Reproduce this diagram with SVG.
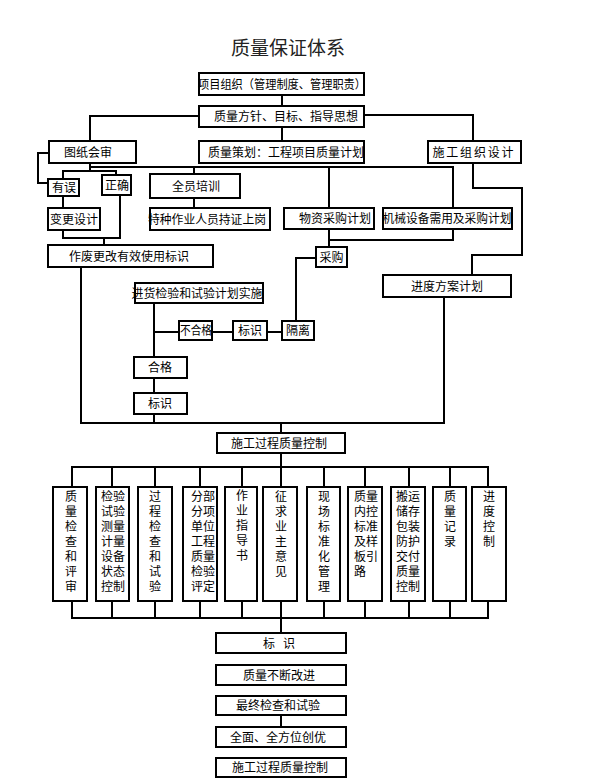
<svg xmlns="http://www.w3.org/2000/svg" width="595" height="781" viewBox="0 0 595 781">
<style>
rect{fill:#fff;stroke:#000;stroke-width:2}
.c path,.c line{fill:none;stroke:#000;stroke-width:2}
text{font-family:"Noto Sans CJK SC","Liberation Sans",sans-serif;font-size:12px;fill:#000;text-anchor:middle}
.v text{text-anchor:middle}
.l{text-anchor:start}
</style>
<rect x="0" y="0" width="595" height="781" style="stroke:none"/>
<text x="288" y="55" style="font-size:19px;fill:#222">质量保证体系</text>
<g class="c" id="connectors">
<path d="M282,95V106"/>
<path d="M199,116H90V141"/>
<path d="M282,127V141"/>
<path d="M364,115H473V141"/>
<path d="M49,153H38V183H48"/>
<path d="M90,163V171M90,167H453V208M329,167V208M194,167V174"/>
<path d="M63,179V171H116V175"/>
<path d="M63,196V208"/>
<path d="M63,230V238H120V195M104,238V245"/>
<path d="M194,198V208"/>
<path d="M473,163V188H522V255H472V275"/>
<path d="M329,229V247M329,240H453V229"/>
<path d="M316,258H296V321"/>
<path d="M81,267V423H444V297"/>
<path d="M154,303V357M154,332H179M212,332H233M267,332H282"/>
<path d="M154,378V393M154,414V423"/>
<path d="M281,423V433"/>
<path d="M281,453V487M281,601V633"/>
<path d="M72,487V467H488V487M112,467V487M155,467V487M200,467V487M242,467V487M324,467V487M365,467V487M409,467V487M450,467V487"/>
<path d="M72,601V618H488V601M112,618V601M155,618V601M200,618V601M242,618V601M324,618V601M365,618V601M409,618V601M450,618V601"/>
<path d="M281,715V727"/>
</g>
<g id="n1"><rect x="199" y="73" width="165" height="22"/><text x="282" y="88.5" textLength="168" lengthAdjust="spacingAndGlyphs">项目组织（管理制度、管理职责）</text></g>
<g id="n2"><rect x="199" y="106" width="165" height="21"/><text x="286" y="121">质量方针、目标、指导思想</text></g>
<g id="n3"><rect x="49" y="141" width="87" height="22"/><text x="88" y="156.5">图纸会审</text></g>
<g id="n4"><rect x="199" y="141" width="165" height="22"/><text x="286" y="156.5">质量策划：工程项目质量计划</text></g>
<g id="n5"><rect x="428" y="141" width="93" height="22"/><text x="473" y="156.5" textLength="81" lengthAdjust="spacing">施工组织设计</text></g>
<g id="n6"><rect x="48" y="179" width="31" height="17"/><text x="64" y="192">有误</text></g>
<g id="n7"><rect x="102" y="175" width="29" height="20"/><text x="117" y="189.5">正确</text></g>
<g id="n8"><rect x="150" y="174" width="90" height="24"/><text x="196" y="190.5">全员培训</text></g>
<g id="n9"><rect x="48" y="208" width="52" height="22"/><text x="74" y="223.5">变更设计</text></g>
<g id="n10"><rect x="150" y="208" width="120" height="22"/><text x="207" y="223.5" textLength="118" lengthAdjust="spacingAndGlyphs">特种作业人员持证上岗</text></g>
<g id="n11"><rect x="284" y="208" width="90" height="21"/><text x="335" y="223">物资采购计划</text></g>
<g id="n12"><rect x="383" y="208" width="129" height="21"/><text x="447" y="223" textLength="129" lengthAdjust="spacingAndGlyphs">机械设备需用及采购计划</text></g>
<g id="n13"><rect x="48" y="245" width="165" height="22"/><text x="129" y="260.5">作废更改有效使用标识</text></g>
<g id="n14"><rect x="316" y="247" width="31" height="20"/><text x="331.5" y="261.5">采购</text></g>
<g id="n15"><rect x="383" y="275" width="128" height="22"/><text x="447" y="290.5">进度方案计划</text></g>
<g id="n16"><rect x="135" y="283" width="128" height="20"/><text x="197" y="297.5" textLength="131" lengthAdjust="spacingAndGlyphs">进货检验和试验计划实施</text></g>
<g id="n17"><rect x="179" y="321" width="33" height="19"/><text x="196" y="335" textLength="32" lengthAdjust="spacingAndGlyphs">不合格</text></g>
<g id="n18"><rect x="233" y="321" width="34" height="19"/><text x="250" y="335">标识</text></g>
<g id="n19"><rect x="282" y="321" width="32" height="19"/><text x="298" y="335">隔离</text></g>
<g id="n20"><rect x="134" y="357" width="53" height="21"/><text x="160" y="372">合格</text></g>
<g id="n21"><rect x="134" y="393" width="53" height="21"/><text x="160" y="408">标识</text></g>
<g id="n22"><rect x="217" y="433" width="128" height="20"/><text x="279" y="447.5">施工过程质量控制</text></g>
<g id="b1" class="v"><rect x="53" y="487" width="34" height="114"/><text x="71"><tspan x="71" y="501">质</tspan><tspan x="71" y="516">量</tspan><tspan x="71" y="531">检</tspan><tspan x="71" y="546">查</tspan><tspan x="71" y="561">和</tspan><tspan x="71" y="576">评</tspan><tspan x="71" y="591">审</tspan></text></g>
<g id="b2"><rect x="96" y="487" width="33" height="114"/><text class="l"><tspan x="101" y="501">检验</tspan><tspan x="101" y="516">试验</tspan><tspan x="101" y="531">测量</tspan><tspan x="101" y="546">计量</tspan><tspan x="101" y="561">设备</tspan><tspan x="101" y="576">状态</tspan><tspan x="101" y="591">控制</tspan></text></g>
<g id="b3" class="v"><rect x="138" y="487" width="34" height="114"/><text><tspan x="155" y="501">过</tspan><tspan x="155" y="516">程</tspan><tspan x="155" y="531">检</tspan><tspan x="155" y="546">查</tspan><tspan x="155" y="561">和</tspan><tspan x="155" y="576">试</tspan><tspan x="155" y="591">验</tspan></text></g>
<g id="b4"><rect x="183" y="487" width="34" height="114"/><text class="l"><tspan x="191" y="501">分部</tspan><tspan x="191" y="516">分项</tspan><tspan x="191" y="531">单位</tspan><tspan x="191" y="546">工程</tspan><tspan x="191" y="561">质量</tspan><tspan x="191" y="576">检验</tspan><tspan x="191" y="591">评定</tspan></text></g>
<g id="b5" class="v"><rect x="225" y="487" width="32" height="114"/><text><tspan x="242" y="500">作</tspan><tspan x="242" y="515">业</tspan><tspan x="242" y="530">指</tspan><tspan x="242" y="545">导</tspan><tspan x="242" y="560">书</tspan></text></g>
<g id="b6" class="v"><rect x="263" y="487" width="34" height="114"/><text><tspan x="281" y="501">征</tspan><tspan x="281" y="516">求</tspan><tspan x="281" y="531">业</tspan><tspan x="281" y="546">主</tspan><tspan x="281" y="561">意</tspan><tspan x="281" y="576">见</tspan></text></g>
<g id="b7" class="v"><rect x="307" y="487" width="33" height="114"/><text><tspan x="324" y="501">现</tspan><tspan x="324" y="516">场</tspan><tspan x="324" y="531">标</tspan><tspan x="324" y="546">准</tspan><tspan x="324" y="561">化</tspan><tspan x="324" y="576">管</tspan><tspan x="324" y="591">理</tspan></text></g>
<g id="b8"><rect x="348" y="487" width="34" height="114"/><text class="l"><tspan x="354" y="501">质量</tspan><tspan x="354" y="516">内控</tspan><tspan x="354" y="531">标准</tspan><tspan x="354" y="546">及样</tspan><tspan x="354" y="561">板引</tspan><tspan x="354" y="576">路</tspan></text></g>
<g id="b9"><rect x="391" y="487" width="34" height="114"/><text class="l"><tspan x="396" y="501">搬运</tspan><tspan x="396" y="516">储存</tspan><tspan x="396" y="531">包装</tspan><tspan x="396" y="546">防护</tspan><tspan x="396" y="561">交付</tspan><tspan x="396" y="576">质量</tspan><tspan x="396" y="591">控制</tspan></text></g>
<g id="b10" class="v"><rect x="433" y="487" width="33" height="114"/><text><tspan x="450" y="501">质</tspan><tspan x="450" y="516">量</tspan><tspan x="450" y="531">记</tspan><tspan x="450" y="546">录</tspan></text></g>
<g id="b11" class="v"><rect x="472" y="487" width="34" height="114"/><text><tspan x="489" y="501">进</tspan><tspan x="489" y="516">度</tspan><tspan x="489" y="531">控</tspan><tspan x="489" y="546">制</tspan></text></g>
<g id="n23"><rect x="216" y="633" width="130" height="20"/><text x="279" y="647.5" xml:space="preserve">标   识</text></g>
<g id="n24"><rect x="216" y="665" width="130" height="20"/><text x="279" y="679.5">质量不断改进</text></g>
<g id="n25"><rect x="216" y="696" width="130" height="19"/><text x="278" y="710">最终检查和试验</text></g>
<g id="n26"><rect x="216" y="727" width="130" height="20"/><text x="278" y="741.5">全面、全方位创优</text></g>
<g id="n27"><rect x="216" y="758" width="130" height="19"/><text x="280" y="772">施工过程质量控制</text></g>
</svg>
